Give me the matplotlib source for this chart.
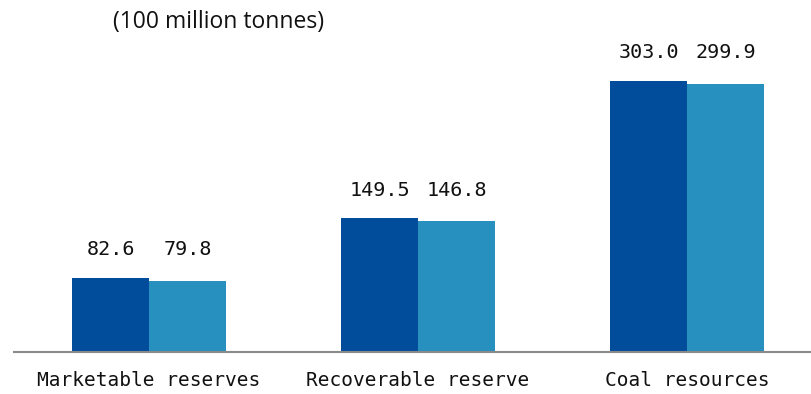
import matplotlib.pyplot as plt
import numpy as np

categories = ["Marketable reserves", "Recoverable reserve", "Coal resources"]
series_a = [82.6, 149.5, 303.0]
series_b = [79.8, 146.8, 299.9]

dark = "#024C9C"
light = "#2790BF"

fig = plt.figure(figsize=(8.11, 3.94), dpi=100)
ax = fig.add_axes([14 / 811, 42 / 394, 1 - 14 / 811, 352 / 394])

x = np.arange(len(categories))
w = 0.286
ba = ax.bar(x - w / 2, series_a, w, color=dark)
bb = ax.bar(x + w / 2, series_b, w, color=light)

# labels of one group sit on the same line, above the taller bar
for i in range(len(categories)):
    top = max(series_a[i], series_b[i])
    for b, v in ((ba[i], series_a[i]), (bb[i], series_b[i])):
        ax.annotate("%.1f" % v, (b.get_x() + b.get_width() / 2, top),
                    xytext=(0, 13.5), textcoords="offset points",
                    ha="center", va="bottom", fontsize=14.5,
                    family="DejaVu Sans Mono", color="#111111")

ax.set_xlim(-0.502, 2.461)
ax.set_ylim(0, 393.6)
ax.set_xticks(x)
ax.set_xticklabels(categories, family="DejaVu Sans Mono", fontsize=14, color="#111111")
ax.tick_params(axis="x", length=0, pad=14)
ax.set_yticks([])
for s in ("top", "right", "left"):
    ax.spines[s].set_visible(False)
ax.spines["bottom"].set_color("#8a8a8a")
ax.spines["bottom"].set_linewidth(1.5)

fig.text(113 / 811, 1 - 22 / 394, "(100 million tonnes)", ha="left", va="center",
         fontsize=16.5, family="Open Sans", color="#111111")

fig.savefig("out.png", dpi=100)
